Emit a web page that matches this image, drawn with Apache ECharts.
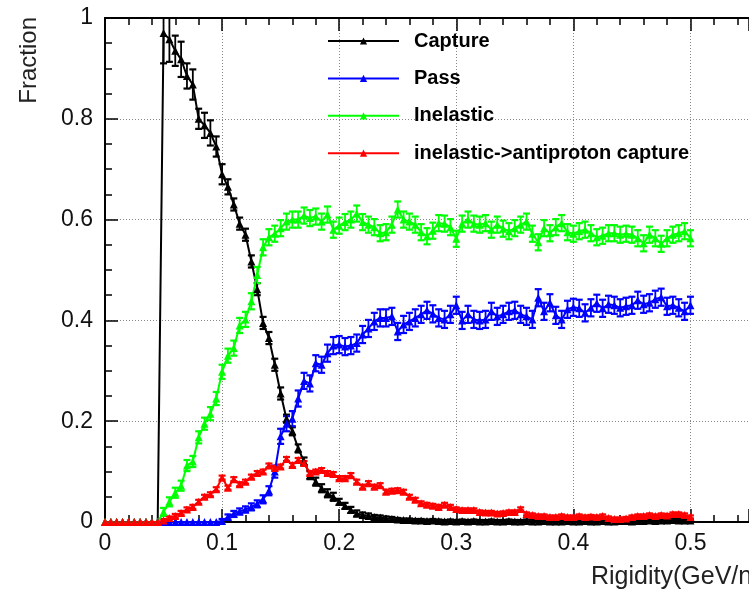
<!DOCTYPE html>
<html>
<head>
<meta charset="utf-8">
<script src="https://cdn.jsdelivr.net/npm/echarts@6/dist/echarts.min.js"></script>
<style>
  html, body { margin: 0; padding: 0; background: #fff; }
  #chart { width: 749px; height: 590px; }
</style>
</head>
<body>
<div id="chart"></div>
<script>
// Bin centres (Rigidity, GeV/n)
const rigidity = [
  0.000,0.005,0.010,0.015,0.020,0.025,0.030,0.035,0.040,0.045,
  0.050,0.055,0.060,0.065,0.070,0.075,0.080,0.085,0.090,0.095,
  0.100,0.105,0.110,0.115,0.120,0.125,0.130,0.135,0.140,0.145,
  0.150,0.155,0.160,0.165,0.170,0.175,0.180,0.185,0.190,0.195,
  0.200,0.205,0.210,0.215,0.220,0.225,0.230,0.235,0.240,0.245,
  0.250,0.255,0.260,0.265,0.270,0.275,0.280,0.285,0.290,0.295,
  0.300,0.305,0.310,0.315,0.320,0.325,0.330,0.335,0.340,0.345,
  0.350,0.355,0.360,0.365,0.370,0.375,0.380,0.385,0.390,0.395,
  0.400,0.405,0.410,0.415,0.420,0.425,0.430,0.435,0.440,0.445,
  0.450,0.455,0.460,0.465,0.470,0.475,0.480,0.485,0.490,0.495,
  0.500
];

const capture = [
  0,0,0,0,0,0,0,0,0,0,
  0.970,0.958,0.935,0.918,0.885,0.868,0.800,0.787,0.772,0.745,
  0.690,0.665,0.630,0.592,0.570,0.517,0.462,0.395,0.365,0.312,
  0.255,0.205,0.180,0.146,0.120,0.093,0.080,0.067,0.057,0.050,
  0.040,0.032,0.024,0.017,0.014,0.012,0.010,0.009,0.007,0.006,
  0.005,0.004,0.004,0.003,0.003,0.002,0.003,0.002,0.001,0.002,
  0.001,0.002,0.001,0.002,0.001,0.001,0.002,0.001,0.001,0.002,
  0.001,0.001,0.002,0.001,0.001,0.002,0.001,0.001,0.001,0.002,
  0.001,0.001,0.002,0.001,0.001,0.002,0.001,0.001,0.002,0.002,
  0.001,0.002,0.002,0.003,0.002,0.003,0.003,0.004,0.003,0.003,
  0.003
];
const captureErr = [
  0,0,0,0,0,0,0,0,0,0,
  0.060,0.045,0.030,0.035,0.025,0.030,0.020,0.025,0.025,0.020,
  0.020,0.015,0.012,0.012,0.012,0.012,0.012,0.012,0.012,0.012,
  0.012,0.008,0.008,0.008,0.008,0.008,0.008,0.008,0.008,0.008,
  0.006,0.006,0.006,0.006,0.005,0.005,0.004,0.004,0.004,0.004,
  0.003,0.003,0.003,0.003,0.003,0.003,0.003,0.003,0.003,0.003,
  0.003,0.003,0.003,0.003,0.003,0.003,0.003,0.003,0.003,0.003,
  0.003,0.003,0.003,0.003,0.003,0.003,0.003,0.003,0.003,0.003,
  0.003,0.003,0.003,0.003,0.003,0.003,0.003,0.003,0.003,0.003,
  0.003,0.003,0.003,0.003,0.003,0.003,0.003,0.003,0.003,0.003,
  0.003
];

const pass = [
  0,0,0,0,0,0,0,0,0,0,
  0,0,0,0,0,0,0,0,0,0,
  0.002,0.010,0.016,0.021,0.025,0.030,0.036,0.045,0.062,0.100,
  0.170,0.195,0.205,0.245,0.280,0.275,0.315,0.312,0.335,0.350,
  0.352,0.348,0.350,0.355,0.372,0.384,0.398,0.405,0.405,0.408,
  0.378,0.392,0.398,0.405,0.412,0.420,0.413,0.405,0.402,0.412,
  0.430,0.400,0.412,0.402,0.400,0.402,0.418,0.408,0.412,0.418,
  0.420,0.412,0.408,0.402,0.445,0.418,0.435,0.410,0.402,0.422,
  0.426,0.424,0.415,0.425,0.434,0.424,0.432,0.430,0.425,0.428,
  0.430,0.440,0.432,0.435,0.442,0.446,0.428,0.430,0.425,0.418,
  0.430
];
const passErr = [
  0,0,0,0,0,0,0,0,0,0,
  0,0,0,0,0,0,0,0,0,0,
  0.004,0.005,0.006,0.006,0.006,0.007,0.007,0.008,0.009,0.012,
  0.015,0.015,0.015,0.016,0.016,0.016,0.016,0.016,0.017,0.017,
  0.017,0.017,0.017,0.017,0.017,0.017,0.017,0.017,0.017,0.017,
  0.017,0.017,0.017,0.017,0.017,0.017,0.017,0.017,0.017,0.017,
  0.017,0.017,0.017,0.017,0.017,0.017,0.017,0.017,0.017,0.017,
  0.017,0.017,0.017,0.017,0.017,0.017,0.017,0.017,0.017,0.017,
  0.017,0.017,0.017,0.017,0.017,0.017,0.017,0.017,0.017,0.017,
  0.017,0.017,0.017,0.017,0.017,0.017,0.017,0.017,0.017,0.017,
  0.017
];

const inelastic = [
  0,0,0,0,0,0,0,0,0,0,
  0.020,0.040,0.058,0.072,0.112,0.120,0.168,0.195,0.215,0.245,
  0.298,0.330,0.345,0.390,0.402,0.438,0.490,0.545,0.565,0.572,
  0.583,0.596,0.600,0.600,0.608,0.603,0.606,0.596,0.610,0.580,
  0.588,0.595,0.600,0.612,0.595,0.590,0.585,0.573,0.575,0.590,
  0.620,0.600,0.596,0.590,0.575,0.567,0.578,0.593,0.592,0.585,
  0.562,0.592,0.600,0.592,0.590,0.593,0.580,0.590,0.582,0.577,
  0.583,0.590,0.596,0.572,0.555,0.583,0.573,0.585,0.593,0.575,
  0.572,0.577,0.580,0.573,0.565,0.568,0.573,0.573,0.570,0.572,
  0.570,0.563,0.553,0.570,0.563,0.552,0.563,0.570,0.573,0.577,
  0.563
];
const inelasticErr = [
  0,0,0,0,0,0,0,0,0,0,
  0.008,0.009,0.010,0.010,0.011,0.011,0.012,0.012,0.013,0.013,
  0.014,0.014,0.015,0.015,0.015,0.016,0.016,0.016,0.016,0.016,
  0.016,0.016,0.016,0.016,0.016,0.016,0.016,0.016,0.016,0.016,
  0.016,0.016,0.016,0.016,0.016,0.016,0.016,0.016,0.016,0.016,
  0.016,0.016,0.016,0.016,0.016,0.016,0.016,0.016,0.016,0.016,
  0.016,0.016,0.016,0.016,0.016,0.016,0.016,0.016,0.016,0.016,
  0.016,0.016,0.016,0.016,0.016,0.016,0.016,0.016,0.016,0.016,
  0.016,0.016,0.016,0.016,0.016,0.016,0.016,0.016,0.016,0.016,
  0.016,0.016,0.016,0.016,0.016,0.016,0.016,0.016,0.016,0.016,
  0.016
];

const antiprotonCapture = [
  0,0,0,0,0,0,0,0,0,0,
  0.003,0.008,0.012,0.018,0.025,0.030,0.040,0.050,0.055,0.065,
  0.088,0.068,0.085,0.075,0.080,0.090,0.097,0.100,0.112,0.107,
  0.110,0.125,0.113,0.123,0.117,0.097,0.100,0.103,0.097,0.095,
  0.087,0.087,0.093,0.080,0.070,0.077,0.070,0.073,0.060,0.062,
  0.063,0.060,0.050,0.044,0.037,0.034,0.032,0.030,0.034,0.030,
  0.026,0.024,0.024,0.024,0.020,0.019,0.019,0.017,0.018,0.020,
  0.020,0.026,0.016,0.014,0.012,0.012,0.010,0.010,0.012,0.010,
  0.010,0.012,0.010,0.011,0.010,0.012,0.008,0.006,0.006,0.007,
  0.010,0.012,0.012,0.014,0.012,0.014,0.013,0.016,0.016,0.014,
  0.010
];
const antiprotonCaptureErr = [
  0,0,0,0,0,0,0,0,0,0,
  0.003,0.003,0.004,0.004,0.004,0.004,0.004,0.004,0.004,0.004,
  0.004,0.004,0.004,0.004,0.004,0.004,0.004,0.004,0.004,0.004,
  0.004,0.004,0.004,0.004,0.004,0.004,0.004,0.004,0.004,0.004,
  0.004,0.004,0.004,0.004,0.004,0.004,0.004,0.004,0.004,0.004,
  0.004,0.004,0.004,0.004,0.004,0.004,0.004,0.004,0.004,0.004,
  0.003,0.003,0.003,0.003,0.003,0.003,0.003,0.003,0.003,0.003,
  0.003,0.003,0.003,0.003,0.003,0.003,0.003,0.003,0.003,0.003,
  0.003,0.003,0.003,0.003,0.003,0.003,0.003,0.003,0.003,0.003,
  0.003,0.003,0.003,0.003,0.003,0.003,0.003,0.003,0.003,0.003,
  0.003
];

const seriesNames = ['Capture', 'Pass', 'Inelastic', 'inelastic->antiproton capture'];
const seriesColors = ['#000000', '#0000ff', '#00ff00', '#ff0000'];
const seriesValues = [capture, pass, inelastic, antiprotonCapture];
const seriesErrors = [captureErr, passErr, inelasticErr, antiprotonCaptureErr];

const xTicks = { min: 0, max: 0.55, interval: 0.1 };
const yTicks = { min: 0, max: 1, interval: 0.2 };

const FONT = 'Liberation Sans';

const chart = echarts.init(document.getElementById('chart'), null, { renderer: 'canvas' });

function errorRender(color) {
  return function (params, api) {
    const x = api.value(0), y = api.value(1), e = api.value(2);
    if (!e) return null;
    const hi = api.coord([x, y + e]);
    const lo = api.coord([x, y - e]);
    return {
      type: 'group',
      children: [
        { type: 'line', shape: { x1: hi[0], y1: hi[1], x2: lo[0], y2: lo[1] }, style: { stroke: color, lineWidth: 1.8 } },
        { type: 'line', shape: { x1: hi[0] - 3.5, y1: hi[1], x2: hi[0] + 3.5, y2: hi[1] }, style: { stroke: color, lineWidth: 2.2 } },
        { type: 'line', shape: { x1: lo[0] - 3.5, y1: lo[1], x2: lo[0] + 3.5, y2: lo[1] }, style: { stroke: color, lineWidth: 2.2 } }
      ]
    };
  };
}

const series = [];
seriesNames.forEach((name, k) => {
  const vals = seriesValues[k];
  const errs = seriesErrors[k];
  series.push({
    name: name + ' err',
    type: 'custom',
    clip: true,
    silent: true,
    data: rigidity.map((x, i) => [x, vals[i], errs[i]]),
    renderItem: errorRender(seriesColors[k]),
    z: 2
  });
  series.push({
    name: name,
    type: 'line',
    data: rigidity.map((x, i) => [x, vals[i]]),
    symbol: 'triangle',
    symbolSize: 8,
    showSymbol: true,
    showAllSymbol: true,
    clip: true,
    color: seriesColors[k],
    itemStyle: { color: seriesColors[k] },
    lineStyle: { color: seriesColors[k], width: 2 },
    z: 3
  });
});

const axisCommon = {
  type: 'value',
  axisLine: { show: true, onZero: false, lineStyle: { color: '#000', width: 2 } },
  axisTick: { show: true, inside: true, length: 13, lineStyle: { color: '#000', width: 1.5 } },
  minorTick: { show: true, length: 7, lineStyle: { color: '#000', width: 1.5 } },
};

const option = {
  animation: false,
  backgroundColor: '#ffffff',
  grid: { left: 105, top: 18, width: 652, height: 504, containLabel: false },
  legend: {
    data: seriesNames,
    orient: 'vertical',
    left: 327,
    top: 31,
    padding: 0,
    itemWidth: 71,
    itemHeight: 9,
    itemGap: 17.4,
    selectedMode: false,
    textStyle: { fontFamily: FONT, fontSize: 20, fontWeight: 'bold', color: '#000', lineHeight: 20, padding: [0, 0, 0, 10] }
  },
  xAxis: [
    Object.assign({}, axisCommon, {
      position: 'bottom',
      min: xTicks.min, max: xTicks.max, interval: xTicks.interval,
      minorTick: Object.assign({}, axisCommon.minorTick, { splitNumber: 5 }),
      axisLabel: { show: true, margin: 10, fontFamily: FONT, fontSize: 23, color: '#111', showMaxLabel: false },
      splitLine: { show: true, lineStyle: { color: '#888', width: 1, type: [1, 2] } }
    }),
    Object.assign({}, axisCommon, {
      position: 'top',
      min: xTicks.min, max: xTicks.max, interval: xTicks.interval,
      minorTick: Object.assign({}, axisCommon.minorTick, { splitNumber: 5 }),
      axisLabel: { show: false },
      splitLine: { show: false }
    })
  ],
  yAxis: [
    Object.assign({}, axisCommon, {
      min: yTicks.min, max: yTicks.max, interval: yTicks.interval,
      minorTick: Object.assign({}, axisCommon.minorTick, { splitNumber: 4 }),
      axisLabel: { show: true, margin: 12, fontFamily: FONT, fontSize: 23, color: '#111' },
      splitLine: { show: true, lineStyle: { color: '#888', width: 1, type: [1, 2] } }
    })
  ],
  graphic: [
    {
      type: 'text',
      x: 29, y: 17,
      rotation: Math.PI / 2,
      style: { text: 'Fraction', font: '24px "Liberation Sans"', fill: '#222', align: 'right', verticalAlign: 'middle' }
    },
    {
      type: 'text',
      x: 591, y: 577,
      style: { text: 'Rigidity(GeV/n)', font: '25px "Liberation Sans"', fill: '#222', align: 'left', verticalAlign: 'middle' }
    }
  ],
  series: series
};

chart.setOption(option);
</script>
</body>
</html>
